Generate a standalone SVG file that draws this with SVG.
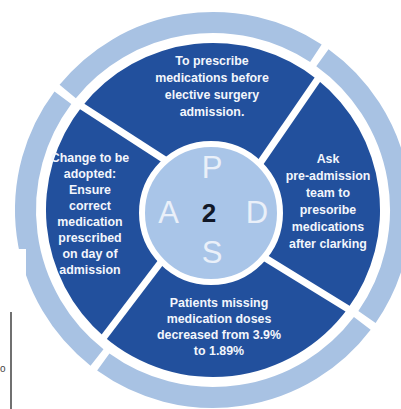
<svg xmlns="http://www.w3.org/2000/svg" width="401" height="409" viewBox="0 0 401 409">
  <style>
    .ring { fill: none; stroke: #a8c2e3; stroke-width: 21; stroke-linecap: butt; }
    .seg { fill: #22509d; }
    .sep { stroke: #ffffff; stroke-width: 7; stroke-linecap: butt; }
    .lbl { font-family: "Liberation Sans", Arial, sans-serif; font-weight: bold; font-size: 12.4px; fill: #f3f6fc; text-anchor: middle; }
    .pdsa { font-family: "Liberation Sans", Arial, sans-serif; font-size: 31px; fill: #eaf0f9; text-anchor: middle; }
  </style>
  <rect width="401" height="409" fill="#ffffff"/>

  <!-- outer light ring, four arcs -->
  <g id="outer-ring">
    <path class="ring" d="M 67.7,91.5 A 187.5 187.5 0 0 1 315.9,53.3"/>
    <path class="ring" d="M 322.4,57.7 A 187.5 187.5 0 0 1 367.0,317.0"/>
    <path class="ring" d="M 362.3,323.4 A 187.5 187.5 0 0 1 103.3,362.1"/>
    <path class="ring" d="M 97.0,357.4 A 187.5 187.5 0 0 1 62.9,97.7"/>
  </g>

  <!-- Plan -->
  <g id="plan">
    <path class="seg" d="M 165,160 L 82,106.4 A 167 167 0 0 1 317.6,79.8 L 258,166 A 70 70 0 0 0 165,160 Z"/>
    <text class="lbl" x="212" y="65">To prescribe</text>
    <text class="lbl" x="212" y="82">medications before</text>
    <text class="lbl" x="212" y="99">elective surgery</text>
    <text class="lbl" x="212" y="116">admission.</text>
  </g>

  <!-- Do -->
  <g id="do">
    <path class="seg" d="M 258,166 L 317.6,79.8 A 167 167 0 0 1 347.8,308.6 L 262,256 A 70 70 0 0 0 258,166 Z"/>
    <text class="lbl" x="328" y="163" font-size="12">Ask</text>
    <text class="lbl" x="328" y="180" font-size="12">pre-admission</text>
    <text class="lbl" x="328" y="197" font-size="12">team to</text>
    <text class="lbl" x="328" y="214" font-size="12">presoribe</text>
    <text class="lbl" x="328" y="231" font-size="12">medications</text>
    <text class="lbl" x="328" y="248" font-size="12">after clarking</text>
  </g>

  <!-- Study -->
  <g id="study">
    <path class="seg" d="M 262,256 L 347.8,308.6 A 167 167 0 0 1 104.2,336.7 L 161,262 A 70 70 0 0 0 262,256 Z"/>
    <text class="lbl" x="219" y="307">Patients missing</text>
    <text class="lbl" x="219" y="323">medication doses</text>
    <text class="lbl" x="219" y="339">decreased from 3.9%</text>
    <text class="lbl" x="219" y="355">to 1.89%</text>
  </g>

  <!-- Act -->
  <g id="act">
    <path class="seg" d="M 161,262 L 104.2,336.7 A 167 167 0 0 1 82,106.4 L 165,160 A 70 70 0 0 0 161,262 Z"/>
    <text class="lbl" x="90" y="162">Change to be</text>
    <text class="lbl" x="90" y="178">adopted:</text>
    <text class="lbl" x="90" y="194">Ensure</text>
    <text class="lbl" x="90" y="210">correct</text>
    <text class="lbl" x="90" y="226">medication</text>
    <text class="lbl" x="90" y="242">prescribed</text>
    <text class="lbl" x="90" y="258">on day of</text>
    <text class="lbl" x="90" y="274">admission</text>
  </g>

  <!-- white dividers between the quarters -->
  <g id="connectors">
    <line class="sep" x1="165" y1="160" x2="77" y2="103.1"/>
    <line class="sep" x1="258" y1="166" x2="321" y2="74.6"/>
    <line class="sep" x1="262" y1="256" x2="353" y2="312"/>
    <line class="sep" x1="161" y1="262" x2="100.6" y2="341.5"/>
  </g>

  <!-- centre hub -->
  <g id="hub">
    <circle cx="211" cy="213" r="69" fill="#a9c5e8" stroke="#ffffff" stroke-width="6"/>
    <text class="pdsa" x="212" y="178">P</text>
    <text class="pdsa" x="168.5" y="223">A</text>
    <text class="pdsa" x="257" y="223">D</text>
    <text class="pdsa" x="212" y="263">S</text>
    <text x="209" y="222" font-family="Liberation Sans, Arial, sans-serif" font-weight="bold" font-size="26" fill="#111827" text-anchor="middle">2</text>
  </g>

  <!-- page margin fragment -->
  <rect x="0" y="249" width="26" height="160" fill="#ffffff"/>
  <line x1="11" y1="312" x2="11" y2="409" stroke="#111111" stroke-width="1.2"/>
  <text x="0" y="372" font-family="Liberation Sans, Arial, sans-serif" font-size="10" fill="#444444">o</text>
</svg>
